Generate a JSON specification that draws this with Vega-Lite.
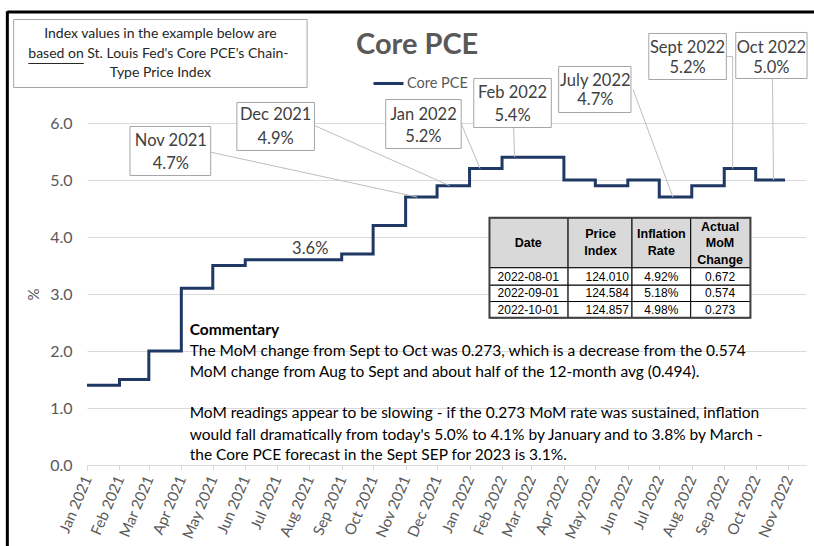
{
  "$schema": "https://vega.github.io/schema/vega-lite/v6.json",
  "width": 719,
  "height": 342,
  "autosize": "none",
  "padding": {"left": 87, "top": 123, "right": 8, "bottom": 81},
  "background": "white",
  "config": {"view": {"stroke": null}, "font": "Lato"},
  "datasets": {
    "pce": [
      {"date": "2021-01-01", "value": 1.4},
      {"date": "2021-02-01", "value": 1.5},
      {"date": "2021-03-01", "value": 2.0},
      {"date": "2021-04-01", "value": 3.1},
      {"date": "2021-05-01", "value": 3.5},
      {"date": "2021-06-01", "value": 3.6},
      {"date": "2021-07-01", "value": 3.6},
      {"date": "2021-08-01", "value": 3.6},
      {"date": "2021-09-01", "value": 3.7},
      {"date": "2021-10-01", "value": 4.2},
      {"date": "2021-11-01", "value": 4.7},
      {"date": "2021-12-01", "value": 4.9},
      {"date": "2022-01-01", "value": 5.2},
      {"date": "2022-02-01", "value": 5.4},
      {"date": "2022-03-01", "value": 5.4},
      {"date": "2022-04-01", "value": 5.0},
      {"date": "2022-05-01", "value": 4.9},
      {"date": "2022-06-01", "value": 5.0},
      {"date": "2022-07-01", "value": 4.7},
      {"date": "2022-08-01", "value": 4.9},
      {"date": "2022-09-01", "value": 5.2},
      {"date": "2022-10-01", "value": 5.0},
      {"date": "2022-10-29", "value": 5.0}
    ],
    "frame": [
      {"x": "2020-10-17", "x2": "2022-12-31", "y": 7.947, "y2": 7.947},
      {"x": "2020-10-17", "x2": "2020-10-17", "y": 7.96, "y2": -1.6}
    ],
    "leaders": [
      {"x": "2021-04-29", "y": 5.488, "x2": "2021-11-12", "y2": 4.7},
      {"x": "2021-08-06", "y": 5.956, "x2": "2021-12-13", "y2": 4.9},
      {"x": "2021-12-24", "y": 5.991, "x2": "2022-01-11", "y2": 5.2},
      {"x": "2022-02-12", "y": 5.921, "x2": "2022-02-13", "y2": 5.4},
      {"x": "2022-06-06", "y": 6.588, "x2": "2022-07-14", "y2": 4.7},
      {"x": "2022-09-03", "y": 7.167, "x2": "2022-09-09", "y2": 7.167},
      {"x": "2022-09-09", "y": 7.167, "x2": "2022-09-09", "y2": 5.2},
      {"x": "2022-10-17", "y": 6.781, "x2": "2022-10-18", "y2": 5.0}
    ],
    "boxes": [
      {"x": "2020-10-23", "x2": "2021-07-30", "y": 7.816, "y2": 6.623},
      {"x": "2021-02-11", "x2": "2021-04-29", "y": 5.939, "y2": 5.079},
      {"x": "2021-05-24", "x2": "2021-08-06", "y": 6.36, "y2": 5.518},
      {"x": "2021-10-13", "x2": "2021-12-24", "y": 6.412, "y2": 5.553},
      {"x": "2022-01-05", "x2": "2022-03-20", "y": 6.781, "y2": 5.921},
      {"x": "2022-03-27", "x2": "2022-06-04", "y": 6.991, "y2": 6.184},
      {"x": "2022-06-21", "x2": "2022-09-03", "y": 7.57, "y2": 6.763},
      {"x": "2022-09-12", "x2": "2022-11-19", "y": 7.588, "y2": 6.781}
    ],
    "callouts": [
      {"x": "2021-03-22", "y": 5.686, "label": "Nov 2021"},
      {"x": "2021-03-22", "y": 5.284, "label": "4.7%"},
      {"x": "2021-06-30", "y": 6.149, "label": "Dec 2021"},
      {"x": "2021-06-30", "y": 5.722, "label": "4.9%"},
      {"x": "2021-11-18", "y": 6.149, "label": "Jan 2022"},
      {"x": "2021-11-18", "y": 5.758, "label": "5.2%"},
      {"x": "2022-02-11", "y": 6.518, "label": "Feb 2022"},
      {"x": "2022-02-11", "y": 6.119, "label": "5.4%"},
      {"x": "2022-05-01", "y": 6.733, "label": "July 2022"},
      {"x": "2022-05-01", "y": 6.4, "label": "4.7%"},
      {"x": "2022-07-28", "y": 7.319, "label": "Sept 2022"},
      {"x": "2022-07-28", "y": 6.968, "label": "5.2%"},
      {"x": "2022-10-16", "y": 7.319, "label": "Oct 2022"},
      {"x": "2022-10-16", "y": 6.968, "label": "5.0%"},
      {"x": "2021-08-02", "y": 3.781, "label": "3.6%"}
    ],
    "note": [
      {"x": "2021-03-12", "y": 7.553, "label": "Index values in the example below are"},
      {"x": "2021-03-12", "y": 6.881, "label": "Type Price Index"}
    ],
    "noteLeft": [
      {"x": "2020-11-06", "y": 7.219, "label": "based on St. Louis Fed's Core PCE's Chain-"}
    ],
    "underline": [
      {"x": "2020-11-06", "x2": "2020-12-29", "y": 7.044}
    ],
    "title": [
      {"x": "2021-11-12", "y": 7.36, "label": "Core PCE"}
    ],
    "commentaryHead": [
      {"x": "2021-04-09", "y": 2.365, "label": "Commentary"}
    ],
    "commentary": [
      {"x": "2021-04-09", "y": 1.996, "label": "The MoM change from Sept to Oct was 0.273, which is a decrease from the 0.574"},
      {"x": "2021-04-09", "y": 1.628, "label": "MoM change from Aug to Sept and about half of the 12-month avg (0.494)."},
      {"x": "2021-04-09", "y": 0.904, "label": "MoM readings appear to be slowing - if the 0.273 MoM rate was sustained, inflation"},
      {"x": "2021-04-09", "y": 0.535, "label": "would fall dramatically from today's 5.0% to 4.1% by January and to 3.8% by March -"},
      {"x": "2021-04-09", "y": 0.172, "label": "the Core PCE forecast in the Sept SEP for 2023 is 3.1%."}
    ],
    "cells": [
      {"part": "header", "x": "2022-01-20", "x2": "2022-04-05", "y": 4.337, "y2": 3.46},
      {"part": "header", "x": "2022-04-05", "x2": "2022-06-05", "y": 4.337, "y2": 3.46},
      {"part": "header", "x": "2022-06-05", "x2": "2022-07-31", "y": 4.337, "y2": 3.46},
      {"part": "header", "x": "2022-07-31", "x2": "2022-09-26", "y": 4.337, "y2": 3.46},
      {"part": "body", "x": "2022-01-20", "x2": "2022-04-05", "y": 3.46, "y2": 3.154},
      {"part": "body", "x": "2022-04-05", "x2": "2022-06-05", "y": 3.46, "y2": 3.154},
      {"part": "body", "x": "2022-06-05", "x2": "2022-07-31", "y": 3.46, "y2": 3.154},
      {"part": "body", "x": "2022-07-31", "x2": "2022-09-26", "y": 3.46, "y2": 3.154},
      {"part": "body", "x": "2022-01-20", "x2": "2022-04-05", "y": 3.154, "y2": 2.868},
      {"part": "body", "x": "2022-04-05", "x2": "2022-06-05", "y": 3.154, "y2": 2.868},
      {"part": "body", "x": "2022-06-05", "x2": "2022-07-31", "y": 3.154, "y2": 2.868},
      {"part": "body", "x": "2022-07-31", "x2": "2022-09-26", "y": 3.154, "y2": 2.868},
      {"part": "body", "x": "2022-01-20", "x2": "2022-04-05", "y": 2.868, "y2": 2.582},
      {"part": "body", "x": "2022-04-05", "x2": "2022-06-05", "y": 2.868, "y2": 2.582},
      {"part": "body", "x": "2022-06-05", "x2": "2022-07-31", "y": 2.868, "y2": 2.582},
      {"part": "body", "x": "2022-07-31", "x2": "2022-09-26", "y": 2.868, "y2": 2.582}
    ],
    "tableOutline": [
      {"x": "2022-01-20", "x2": "2022-09-26", "y": 4.337, "y2": 2.582}
    ],
    "tableHeader": [
      {"x": "2022-02-26", "y": 3.886, "label": "Date"},
      {"x": "2022-05-06", "y": 4.044, "label": "Price"},
      {"x": "2022-05-06", "y": 3.746, "label": "Index"},
      {"x": "2022-07-03", "y": 4.044, "label": "Inflation"},
      {"x": "2022-07-03", "y": 3.746, "label": "Rate"},
      {"x": "2022-08-28", "y": 4.18, "label": "Actual"},
      {"x": "2022-08-28", "y": 3.886, "label": "MoM"},
      {"x": "2022-08-28", "y": 3.588, "label": "Change"}
    ],
    "tableBody": [
      {"x": "2022-02-26", "y": 3.302, "label": "2022-08-01"},
      {"x": "2022-07-03", "y": 3.302, "label": "4.92%"},
      {"x": "2022-08-28", "y": 3.302, "label": "0.672"},
      {"x": "2022-02-26", "y": 3.009, "label": "2022-09-01"},
      {"x": "2022-07-03", "y": 3.009, "label": "5.18%"},
      {"x": "2022-08-28", "y": 3.009, "label": "0.574"},
      {"x": "2022-02-26", "y": 2.728, "label": "2022-10-01"},
      {"x": "2022-07-03", "y": 2.728, "label": "4.98%"},
      {"x": "2022-08-28", "y": 2.728, "label": "0.273"}
    ],
    "tablePrice": [
      {"x": "2022-06-02", "y": 3.302, "label": "124.010"},
      {"x": "2022-06-02", "y": 3.009, "label": "124.584"},
      {"x": "2022-06-02", "y": 2.728, "label": "124.857"}
    ]
  },
  "layer": [
    {
      "data": {"name": "pce"},
      "mark": {"type": "line", "interpolate": "step-after", "strokeWidth": 3, "strokeJoin": "miter"},
      "encoding": {
        "x": {
          "field": "date", "type": "temporal", "title": null,
          "scale": {"type": "utc", "nice": false, "domain": [{"year": 2021, "month": 1, "date": 1, "utc": true}, {"year": 2022, "month": 11, "date": 18, "utc": true}]},
          "axis": {
            "format": "%b %Y", "tickCount": {"interval": "month", "step": 1},
            "labelAngle": -67, "labelAlign": "right", "labelBaseline": "middle",
            "labelFont": "Lato", "labelFontSize": 15, "labelColor": "#595959",
            "labelPadding": 6, "labelOverlap": false, "labelFlush": false, "labelBound": false,
            "tickColor": "#d9d9d9", "tickSize": 5, "domainColor": "#d9d9d9", "grid": false
          }
        },
        "y": {
          "field": "value", "type": "quantitative", "title": "%",
          "scale": {"domain": [0, 6], "nice": false},
          "axis": {
            "values": [0, 1, 2, 3, 4, 5, 6], "format": ".1f",
            "labelFont": "Lato", "labelFontSize": 16, "labelColor": "#595959", "labelPadding": 15,
            "domain": false, "ticks": false, "grid": true, "gridColor": "#d9d9d9",
            "titleFont": "Lato", "titleFontSize": 15, "titleColor": "#595959", "titleFontWeight": "normal", "titlePadding": 8
          }
        },
        "color": {
          "datum": "Core PCE", "type": "nominal",
          "scale": {"range": ["#1f3864"]},
          "legend": {
            "orient": "none", "legendX": 285, "legendY": -56, "title": null, "padding": 0,
            "symbolType": "stroke", "symbolSize": 900, "symbolStrokeWidth": 3,
            "labelFont": "Lato", "labelFontSize": 14.5, "labelColor": "#595959", "labelOffset": 2
          }
        }
      }
    },
    {
      "data": {"name": "frame"},
      "mark": {"type": "rule", "stroke": "black", "strokeWidth": 3},
      "encoding": {
        "x": {"field": "x", "type": "temporal", "title": null},
        "x2": {"field": "x2"},
        "y": {"field": "y", "type": "quantitative", "title": "%"},
        "y2": {"field": "y2"}
      }
    },
    {
      "data": {"name": "leaders"},
      "mark": {"type": "rule", "stroke": "#bfbfbf", "strokeWidth": 1},
      "encoding": {
        "x": {"field": "x", "type": "temporal", "title": null},
        "x2": {"field": "x2"},
        "y": {"field": "y", "type": "quantitative", "title": "%"},
        "y2": {"field": "y2"}
      }
    },
    {
      "data": {"name": "boxes"},
      "mark": {"type": "rect", "fill": "white", "stroke": "#a6a6a6", "strokeWidth": 1},
      "encoding": {
        "x": {"field": "x", "type": "temporal", "title": null},
        "x2": {"field": "x2"},
        "y": {"field": "y", "type": "quantitative", "title": "%"},
        "y2": {"field": "y2"}
      }
    },
    {
      "data": {"name": "callouts"},
      "mark": {"type": "text", "font": "Lato", "fontSize": 16.5, "color": "#404040", "align": "center", "baseline": "middle"},
      "encoding": {
        "x": {"field": "x", "type": "temporal", "title": null},
        "y": {"field": "y", "type": "quantitative", "title": "%"},
        "text": {"field": "label"}
      }
    },
    {
      "data": {"name": "note"},
      "mark": {"type": "text", "font": "Lato", "fontSize": 14, "color": "#262626", "align": "center", "baseline": "middle"},
      "encoding": {
        "x": {"field": "x", "type": "temporal", "title": null},
        "y": {"field": "y", "type": "quantitative", "title": "%"},
        "text": {"field": "label"}
      }
    },
    {
      "data": {"name": "noteLeft"},
      "mark": {"type": "text", "font": "Lato", "fontSize": 14, "color": "#262626", "align": "left", "baseline": "middle"},
      "encoding": {
        "x": {"field": "x", "type": "temporal", "title": null},
        "y": {"field": "y", "type": "quantitative", "title": "%"},
        "text": {"field": "label"}
      }
    },
    {
      "data": {"name": "underline"},
      "mark": {"type": "rule", "stroke": "#262626", "strokeWidth": 1},
      "encoding": {
        "x": {"field": "x", "type": "temporal", "title": null},
        "x2": {"field": "x2"},
        "y": {"field": "y", "type": "quantitative", "title": "%"}
      }
    },
    {
      "data": {"name": "title"},
      "mark": {"type": "text", "font": "Lato", "fontSize": 29, "fontWeight": "bold", "color": "#595959", "align": "center", "baseline": "middle"},
      "encoding": {
        "x": {"field": "x", "type": "temporal", "title": null},
        "y": {"field": "y", "type": "quantitative", "title": "%"},
        "text": {"field": "label"}
      }
    },
    {
      "data": {"name": "commentaryHead"},
      "mark": {"type": "text", "font": "Lato", "fontSize": 15.5, "fontWeight": "bold", "color": "black", "align": "left", "baseline": "middle"},
      "encoding": {
        "x": {"field": "x", "type": "temporal", "title": null},
        "y": {"field": "y", "type": "quantitative", "title": "%"},
        "text": {"field": "label"}
      }
    },
    {
      "data": {"name": "commentary"},
      "mark": {"type": "text", "font": "Lato", "fontSize": 15.5, "color": "black", "align": "left", "baseline": "middle"},
      "encoding": {
        "x": {"field": "x", "type": "temporal", "title": null},
        "y": {"field": "y", "type": "quantitative", "title": "%"},
        "text": {"field": "label"}
      }
    },
    {
      "data": {"name": "cells"},
      "transform": [{"filter": "datum.part === 'header'"}],
      "mark": {"type": "rect", "fill": "#d9d9d9", "stroke": "black", "strokeWidth": 1},
      "encoding": {
        "x": {"field": "x", "type": "temporal", "title": null},
        "x2": {"field": "x2"},
        "y": {"field": "y", "type": "quantitative", "title": "%"},
        "y2": {"field": "y2"}
      }
    },
    {
      "data": {"name": "cells"},
      "transform": [{"filter": "datum.part === 'body'"}],
      "mark": {"type": "rect", "fill": "white", "stroke": "black", "strokeWidth": 1},
      "encoding": {
        "x": {"field": "x", "type": "temporal", "title": null},
        "x2": {"field": "x2"},
        "y": {"field": "y", "type": "quantitative", "title": "%"},
        "y2": {"field": "y2"}
      }
    },
    {
      "data": {"name": "tableOutline"},
      "mark": {"type": "rect", "fill": null, "fillOpacity": 0, "stroke": "#404040", "strokeWidth": 2},
      "encoding": {
        "x": {"field": "x", "type": "temporal", "title": null},
        "x2": {"field": "x2"},
        "y": {"field": "y", "type": "quantitative", "title": "%"},
        "y2": {"field": "y2"}
      }
    },
    {
      "data": {"name": "tableHeader"},
      "mark": {"type": "text", "font": "Liberation Sans", "fontSize": 12.5, "fontWeight": "bold", "color": "black", "align": "center", "baseline": "middle"},
      "encoding": {
        "x": {"field": "x", "type": "temporal", "title": null},
        "y": {"field": "y", "type": "quantitative", "title": "%"},
        "text": {"field": "label"}
      }
    },
    {
      "data": {"name": "tableBody"},
      "mark": {"type": "text", "font": "Liberation Sans", "fontSize": 12, "color": "black", "align": "center", "baseline": "middle"},
      "encoding": {
        "x": {"field": "x", "type": "temporal", "title": null},
        "y": {"field": "y", "type": "quantitative", "title": "%"},
        "text": {"field": "label"}
      }
    },
    {
      "data": {"name": "tablePrice"},
      "mark": {"type": "text", "font": "Liberation Sans", "fontSize": 12, "color": "black", "align": "right", "baseline": "middle"},
      "encoding": {
        "x": {"field": "x", "type": "temporal", "title": null},
        "y": {"field": "y", "type": "quantitative", "title": "%"},
        "text": {"field": "label"}
      }
    }
  ]
}
